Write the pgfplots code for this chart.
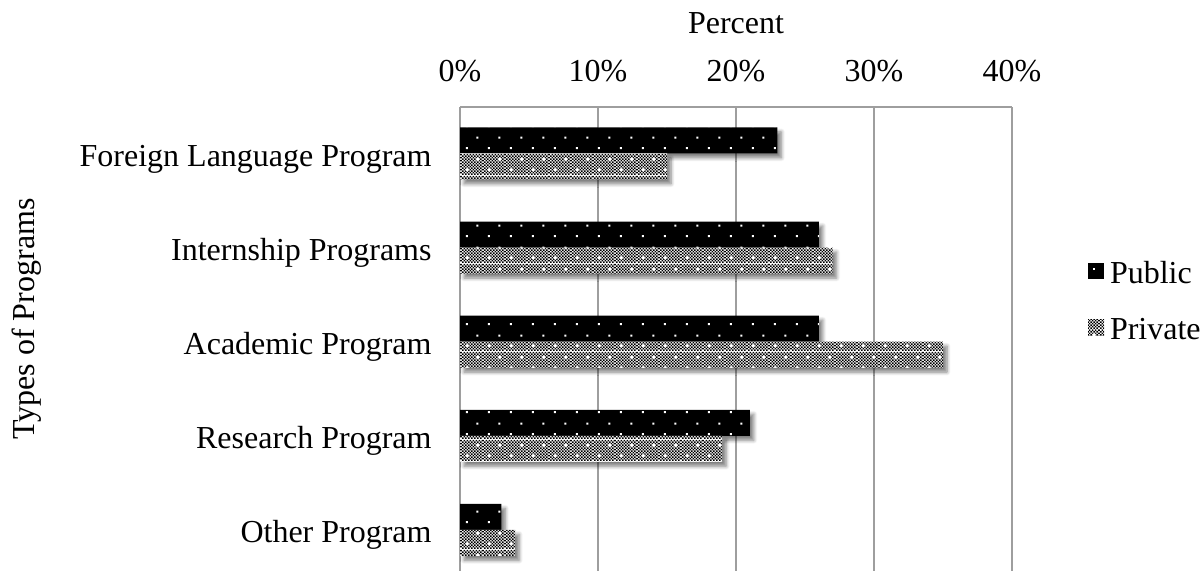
\documentclass[border=0pt]{standalone}
\usepackage{fontspec}
\setmainfont{Liberation Serif}
\usepackage{pgfplots}
\pgfplotsset{compat=1.18}
\usetikzlibrary{patterns,patterns.meta,shadows,shadows.blur}

\tikzdeclarepattern{
  name=pubdots,
  type=colored,
  bottom left={(0pt,0pt)},
  top right={(11pt,11pt)},
  tile size={(11pt,11pt)},
  code={
    \fill[white] (2pt,2pt) rectangle (3pt,3pt);
    \fill[white] (7.5pt,7.5pt) rectangle (8.5pt,8.5pt);
  }
}
\tikzdeclarepattern{
  name=privcheck,
  type=colored,
  bottom left={(0pt,0pt)},
  top right={(11pt,11pt)},
  tile size={(11pt,11pt)},
  code={
    \foreach \i in {0,...,13}{
      \pgfmathtruncatemacro\o{mod(\i,2)}
      \foreach \j in {0,2,...,12}{
        \fill[black] ({\i*11pt/14},{(\j+\o)*11pt/14}) rectangle ++({11pt/14},{11pt/14});
      }
    }
    \fill[white] (2pt,2pt) rectangle (3.4pt,3.4pt);
    \fill[white] (7.5pt,7.5pt) rectangle (8.9pt,8.9pt);
  }
}

\begin{document}
\begin{tikzpicture}[font=\fontsize{16}{19}\selectfont]
\path[use as bounding box] (0pt,0pt) rectangle (602pt,-285.5pt);
\begin{axis}[
  at={(230pt,-285.5pt)}, anchor=south west,
  scale only axis, width=276pt, height=232pt,
  xmin=0, xmax=40, ymin=-0.436, ymax=4.494,
  axis x line=top, axis y line=left,
  x axis line style={-, draw=black!38, line width=1pt},
  y axis line style={-, draw=black!38, line width=1pt},
  xtick={0,10,20,30,40},
  xticklabels={0\%,10\%,20\%,30\%,40\%},
  ytick={0,1,2,3,4},
  yticklabels={Other Program,Research Program,Academic Program,Internship Programs,Foreign Language Program},
  major tick length=0pt,
  xmajorgrids,
  major grid style={draw=black!38, line width=1pt},
  xticklabel style={anchor=base, inner sep=0pt, yshift=12.5pt},
  yticklabel style={anchor=base east, inner sep=0pt, xshift=-14pt, yshift=-6.5pt},
  xlabel={Percent},
  xlabel style={at={(rel axis cs:0.5,1.1573)}, anchor=base, inner sep=0pt},
  ylabel={Types of Programs},
  ylabel style={at={(rel axis cs:-0.770,0.543)}, anchor=base, inner sep=0pt, rotate=0},
  /pgf/number format/assume math mode=true,
  legend style={at={(rel axis cs:1.1377,0.667)}, anchor=north west, draw=none, fill=none,
    inner sep=0pt, outer sep=0pt, row sep=13.5pt,
    nodes={inner sep=0pt, text height=11pt, text depth=3.5pt},
    /tikz/every odd column/.append style={column sep=3pt}},
  legend cell align=left,
  legend image code/.code={\path[#1] (0pt,-1.5pt) rectangle (8pt,6.5pt);},
]
\addplot[xbar, bar width=13pt, bar shift=6.5pt, draw=none, fill=black,
  postaction={pattern=pubdots},
  blur shadow={shadow xshift=2pt, shadow yshift=-2.2pt, shadow blur radius=1.8pt, shadow blur steps=6, shadow opacity=50}, forget plot]
  coordinates {(3,0) (21,1) (26,2) (26,3) (23,4)};
\addplot[xbar, bar width=13pt, bar shift=-6.5pt, draw=none, fill=white,
  postaction={pattern=privcheck},
  blur shadow={shadow xshift=2pt, shadow yshift=-2.2pt, shadow blur radius=1.8pt, shadow blur steps=6, shadow opacity=50}, forget plot]
  coordinates {(4,0) (19,1) (35,2) (27,3) (15,4)};
\addlegendimage{fill=black, postaction={pattern=pubdots}, draw=none}
\addlegendentry{Public}
\addlegendimage{fill=white, postaction={pattern=privcheck}, draw=none}
\addlegendentry{Private}
\end{axis}
\end{tikzpicture}
\end{document}
